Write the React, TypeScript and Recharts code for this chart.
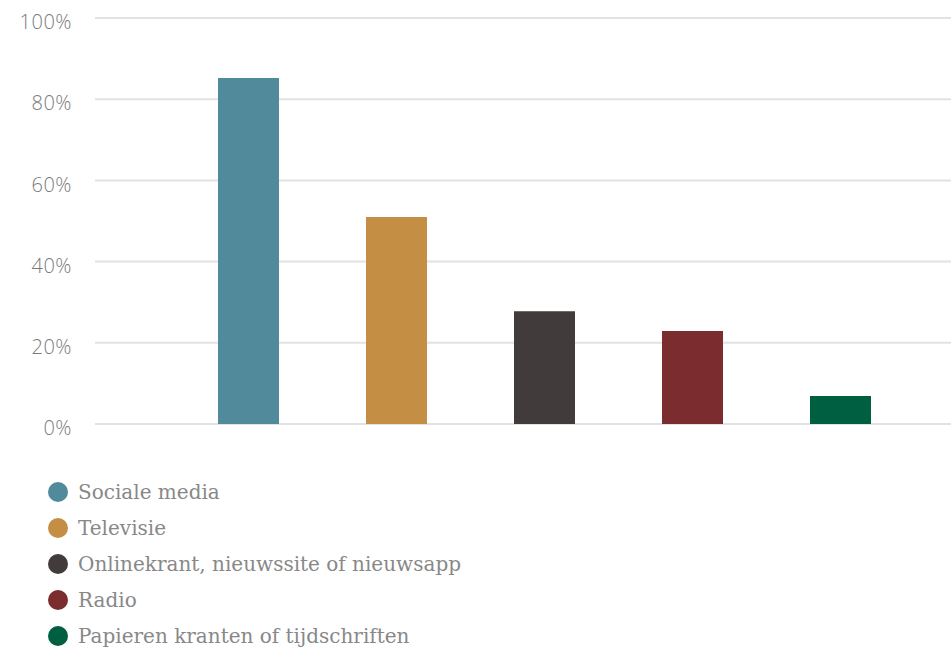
import { BarChart, Bar, XAxis, YAxis, CartesianGrid } from "recharts";

const seriesNames = [
  "Sociale media",
  "Televisie",
  "Onlinekrant, nieuwssite of nieuwsapp",
  "Radio",
  "Papieren kranten of tijdschriften",
];
const seriesKeys = ["sociale", "televisie", "online", "radio", "papier"];
const seriesValues = [85.2, 51, 27.8, 22.9, 6.9];
const seriesColors = ["#518b9b", "#c48f45", "#423b3b", "#7a2c2e", "#005f41"];
const yTicks = [0, 20, 40, 60, 80, 100];

const row: Record<string, string | number> = { name: "" };
seriesKeys.forEach((k, i) => {
  row[k] = seriesValues[i];
});
const data = [row];

const Legendary = () => (
  <div style={{ position: "absolute", top: 474, left: 48 }}>
    {seriesNames.map((name, i) => (
      <div
        key={name}
        style={{ height: 36, display: "flex", alignItems: "center" }}
      >
        <span
          style={{
            width: 20,
            height: 20,
            borderRadius: "50%",
            background: seriesColors[i],
            display: "inline-block",
            marginRight: 10,
            flexShrink: 0,
          }}
        />
        <span
          style={{
            fontFamily: "DejaVu Serif",
            fontSize: 20,
            color: "#888888",
            whiteSpace: "nowrap",
          }}
        >
          {name}
        </span>
      </div>
    ))}
  </div>
);

export default function App() {
  return (
    <div
      style={{
        position: "fixed",
        top: 0,
        left: 0,
        width: 951,
        height: 647,
        overflow: "hidden",
        background: "#fff",
      }}
    >
      <BarChart
        width={951}
        height={440}
        data={data}
        margin={{ top: 18, right: 0, left: 8, bottom: 16 }}
        barSize={61}
        barGap={87}
      >
        <CartesianGrid
          horizontal
          vertical={false}
          stroke="#e2e2e2"
          strokeWidth={2}
        />
        <XAxis dataKey="name" hide padding={{ left: 43, right: 0 }} />
        <YAxis
          width={87}
          domain={[0, 100]}
          ticks={yTicks}
          tickFormatter={(v) => `${v}%`}
          axisLine={false}
          tickLine={false}
          tickSize={0}
          tickMargin={23}
          tick={{
            fill: "#7a7a7a",
            fontSize: 20,
            fontFamily: "Open Sans",
            fontWeight: 300,
            letterSpacing: 0.5,
            dy: 4,
          }}
        />
        {seriesKeys.map((k, i) => (
          <Bar
            key={k}
            dataKey={k}
            name={seriesNames[i]}
            fill={seriesColors[i]}
            isAnimationActive={false}
          />
        ))}
      </BarChart>
      <Legendary />
    </div>
  );
}
